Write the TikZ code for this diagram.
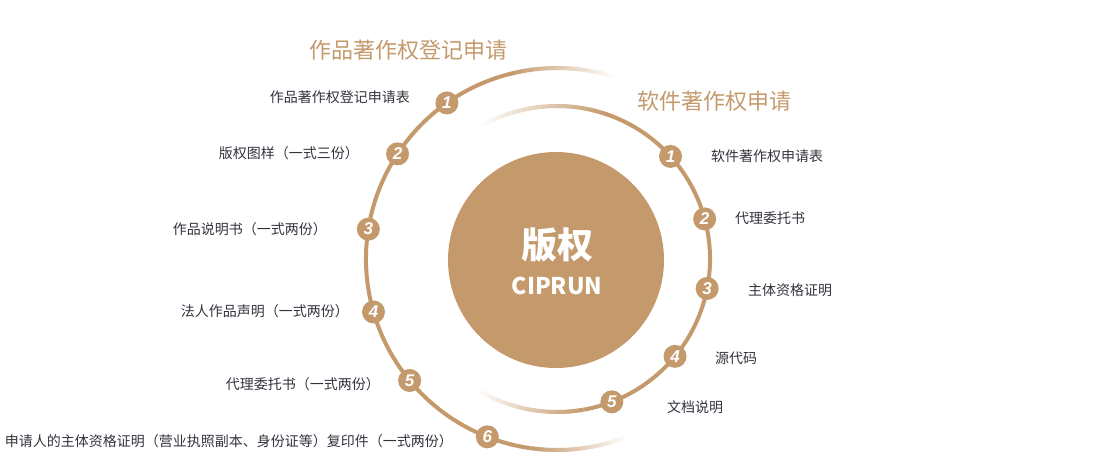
\documentclass[tikz,border=0pt]{standalone}
\usepackage{fontspec}
\setmainfont{Noto Sans CJK SC}
\newfontfamily\numfont{Liberation Sans}
\definecolor{copper}{RGB}{196,154,108}
\definecolor{ink}{RGB}{50,52,62}
\tikzset{
  arcline/.style={line width=4pt},
  marker/.style={circle, fill=copper, inner sep=0pt, minimum size=23pt, text=white,
    font=\numfont\fontsize{17}{17}\selectfont\bfseries\itshape},
  item/.style={text=ink, font=\fontsize{14}{16}\selectfont, inner sep=0pt},
  heading/.style={text=copper, font=\fontsize{22}{24}\selectfont, inner sep=0pt}
}
% arc that fades from one mix of copper to another
\def\fadearc(#1)(#2:#3:#4)(#5:#6){%
  \foreach \k in {0,...,39}{
    \pgfmathsetmacro\aa{#2+(#3-#2)*\k/40}
    \pgfmathsetmacro\ab{#2+(#3-#2)*(\k+1.4)/40}
    \pgfmathtruncatemacro\pp{#5+(#6-#5)*\k/39}
    \draw[arcline, color=copper!\pp!white] (#1) ++(\aa:#4) arc (\aa:\ab:#4);
  }}

\begin{document}
\begin{tikzpicture}[x=1pt, y=-1pt]
			%%%%% START %%%%%
			\useasboundingbox (0, 0) rectangle (1105, 459);
			\coordinate (ctr) at (557, 259);
			
			\fill[copper] (556, 260) circle (108);
			\node[text=white, font=\fontsize{36}{38}\selectfont\bfseries] (mainword) at (557, 245) {版权};
			\node[text=white, font=\fontsize{23}{25}\selectfont\bfseries] (subword) at (557, 286) {CIPRUN};
			
			% outer ring
			\draw[arcline, color=copper] (ctr) ++(-104:191) arc (-104:-262:191);
			\fadearc(ctr)(-72:-104:191)(0:100);
			\fadearc(ctr)(-262:-292:191)(100:0);
			
			% inner ring
			\draw[arcline, color=copper] (ctr) ++(-70:153) arc (-70:80:153);
			\fadearc(ctr)(-121:-70:153)(0:100);
			\fadearc(ctr)(80:122:153)(100:0);
			
			\foreach \n/\a in {1/125.2, 2/146.6, 3/171, 4/196.1, 5/219.5, 6/248.6}
				\path (ctr) ++(-\a:191) node[marker] (work\n) {\n};
			\foreach \n/\a in {1/42.1, 2/15.2, 3/-11.1, 4/-39.5, 5/-69}
				\path (ctr) ++(-\a:153) node[marker] (soft\n) {\n};
			
			\node[heading] (worktitle) at (408, 50) {作品著作权登记申请};
			\node[heading] (softtitle) at (714, 101) {软件著作权申请};
			
			\node[item, anchor=east] (workitem1) at (410, 97) {作品著作权登记申请表};
			\node[item, anchor=east] (workitem2) at (359, 153) {版权图样（一式三份）};
			\node[item, anchor=east] (workitem3) at (327, 229) {作品说明书（一式两份）};
			\node[item, anchor=east] (workitem4) at (349, 311) {法人作品声明（一式两份）};
			\node[item, anchor=east] (workitem5) at (380, 384) {代理委托书（一式两份）};
			\node[item, anchor=east] (workitem6) at (453, 441) {申请人的主体资格证明（营业执照副本、身份证等）复印件（一式两份）};
			
			\node[item, anchor=west] (softitem1) at (711, 156) {软件著作权申请表};
			\node[item, anchor=west] (softitem2) at (735, 218) {代理委托书};
			\node[item, anchor=west] (softitem3) at (748, 290) {主体资格证明};
			\node[item, anchor=west] (softitem4) at (715, 358) {源代码};
			\node[item, anchor=west] (softitem5) at (667, 407) {文档说明};
			%%%%% END %%%%%
\end{tikzpicture}
\end{document}
